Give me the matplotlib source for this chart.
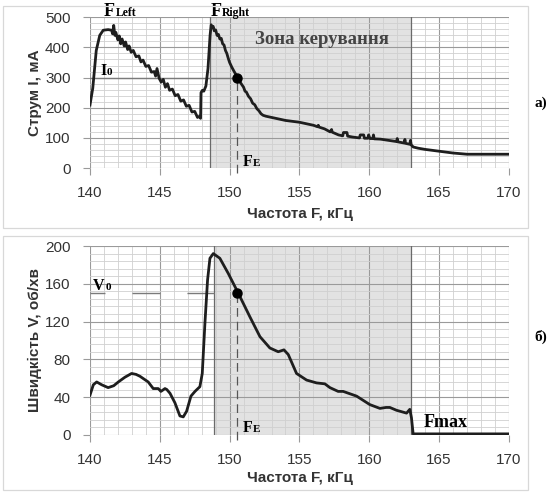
# Current and speed vs. excitation frequency, two stacked panels.

import matplotlib

matplotlib.use("Agg")
import matplotlib.pyplot as plt
from matplotlib.patches import Rectangle
from matplotlib.ticker import MultipleLocator

OUT_PATH = "out.png"

# panel a): current I (mA) vs frequency F (kHz)
freq_current = [
    140.0, 140.2, 140.45, 140.7, 140.95, 141.3, 141.55, 141.62, 141.7, 141.78,
    141.85, 142.0, 142.1, 142.2, 142.3, 142.45, 142.55, 142.7, 142.8, 142.95,
    143.1, 143.3, 143.5, 143.65, 143.8, 144.0, 144.2, 144.4, 144.6, 144.7,
    144.8, 144.95, 145.1, 145.25, 145.4, 145.55, 145.7, 145.9, 146.1, 146.3,
    146.5, 146.7, 146.9, 147.1, 147.3, 147.5, 147.7, 147.85, 147.92, 147.95,
    148.05, 148.15, 148.3, 148.45, 148.6, 148.68, 148.75, 148.82, 148.9, 149.0,
    149.1, 149.2, 149.3, 149.4, 149.5, 149.6, 149.7, 149.8, 149.9, 150.0,
    150.15, 150.3, 150.45, 150.6, 150.75, 150.9, 151.0, 151.1, 151.2, 151.35,
    151.5, 151.65, 151.8, 151.95, 152.1, 152.25, 152.4, 152.6, 152.9, 153.5,
    154.0, 154.5, 155.0, 155.5, 156.0, 156.3, 156.35, 156.4, 156.8, 157.2,
    157.3, 157.35, 157.8, 158.1, 158.15, 158.4, 158.45, 158.8, 159.3, 159.35,
    159.6, 159.65, 159.9, 159.95, 160.05, 160.25, 160.3, 160.35, 160.8, 161.4,
    161.95, 162.0, 162.05, 162.5, 162.55, 162.6, 162.9, 162.95, 163.0, 163.15,
    163.5, 164.0, 164.5, 165.0, 165.5, 166.0, 166.5, 167.0, 168.0, 169.0,
    170.0,
]
current_ma = [
    209, 265, 390, 440, 457, 459, 457, 445, 473, 440,
    450, 425, 438, 412, 428, 405, 418, 393, 405, 384,
    390, 369, 372, 352, 358, 337, 340, 318, 320, 305,
    330, 298, 285, 294, 268, 280, 258, 262, 240, 244,
    222, 226, 205, 208, 186, 188, 168, 172, 165, 250,
    258, 255, 272, 330, 440, 475, 465, 470, 455, 458,
    440, 443, 428, 430, 412, 408, 390, 380, 364, 350,
    335, 322, 310, 298, 285, 275, 268, 255, 252, 238,
    230, 215, 210, 197, 190, 180, 175, 172, 169, 163,
    158, 155, 152, 147, 142, 137, 142, 136, 130, 120,
    128, 119, 110, 107, 118, 118, 106, 103, 100, 110,
    110, 99, 99, 110, 98, 98, 110, 97, 96, 92,
    88, 98, 87, 83, 95, 82, 79, 92, 77, 70,
    66, 62, 59, 56, 53, 50, 48, 46, 46, 46,
    46,
]

# panel б): speed V (rpm) vs frequency F (kHz)
freq_speed = [
    140.0, 140.24, 140.48, 140.84, 141.3, 141.7, 142.03, 142.5, 142.98, 143.3,
    143.58, 144.17, 144.53, 144.89, 145.08, 145.37, 145.5, 145.73, 146.08, 146.44,
    146.68, 146.92, 147.23, 147.52, 147.87, 148.04, 148.23, 148.42, 148.59, 148.83,
    149.3, 149.9, 150.62, 151.45, 152.17, 152.88, 153.48, 153.89, 154.2, 154.79,
    155.51, 156.22, 156.82, 157.18, 157.77, 158.13, 159.09, 160.04, 160.76, 161.2,
    161.47, 161.95, 162.67, 162.9, 163.02, 163.14, 163.5, 170.0,
]
speed_rpm = [
    42, 53, 56, 53, 50, 52, 56, 61, 65, 64,
    62, 56, 49, 49, 46, 49, 48, 44, 34, 20,
    19, 25, 41, 46, 51, 65, 118, 164, 187, 192,
    187, 171, 150, 125, 104, 92, 88, 90, 85, 65,
    58, 55, 54, 50, 46, 46, 41, 32, 28, 29,
    29, 26, 23, 27, 18, 1, 1, 1,
]

# operating points and zone bounds
F_E = 150.55
I_0 = 300
V_0 = 150
ZONE_CURRENT = (148.6, 163.0)
ZONE_SPEED = (148.85, 163.0)

LINE_COLOR = "#1e1e1e"
TEXT_COLOR = "#333333"
SERIF = ["Liberation Serif", "DejaVu Serif"]
SANS = ["Liberation Sans", "DejaVu Sans"]


def style_axes(ax, ymax, ymajor, yminor):
    ax.set_xlim(140, 170)
    ax.set_ylim(0, ymax)
    ax.xaxis.set_major_locator(MultipleLocator(5))
    ax.xaxis.set_minor_locator(MultipleLocator(1))
    ax.yaxis.set_major_locator(MultipleLocator(ymajor))
    ax.yaxis.set_minor_locator(MultipleLocator(yminor))
    ax.grid(which="major", color="#9a9a9a", linewidth=0.8)
    ax.grid(which="minor", color="#d0d0d0", linewidth=0.6)
    ax.set_axisbelow(True)
    for spine in ax.spines.values():
        spine.set_visible(False)
    ax.tick_params(axis="x", which="major", length=5, color="#9a9a9a", labelsize=11,
                   labelcolor=TEXT_COLOR, pad=8)
    ax.tick_params(axis="y", which="major", length=5, color="#9a9a9a", labelsize=11,
                   labelcolor=TEXT_COLOR, pad=9)
    ax.tick_params(which="minor", length=0)
    for label in ax.get_xticklabels() + ax.get_yticklabels():
        label.set_family(SANS)


def shade_zone(ax, zone):
    ax.axvspan(zone[0], zone[1], facecolor="#e2e2e2", edgecolor="none", zorder=0.1)
    for x in zone:
        ax.axvline(x, color="#6a6a6a", linewidth=0.9, zorder=0.6)


def sub_label(ax, x, y, main, sub, size, sub_size, gap, color="black"):
    # letter plus a small subscript-like suffix on the same baseline
    ax.text(x, y, main, family=SERIF, fontsize=size, fontweight="bold", color=color,
            va="baseline", clip_on=False)
    ax.text(x + gap, y, sub, family=SERIF, fontsize=sub_size, fontweight="bold",
            color=color, va="baseline", clip_on=False)


def main():
    fig = plt.figure(figsize=(5.52, 4.93), dpi=100)

    # chart-area frames, Excel style
    for y0, h in ((0.538, 0.450), (0.006, 0.516)):
        fig.patches.append(Rectangle((0.006, y0), 0.95, h, transform=fig.transFigure,
                                     fill=False, edgecolor="#d8d8d8", linewidth=0.9))

    ax1 = fig.add_axes([0.163, 0.659, 0.759, 0.306])
    ax2 = fig.add_axes([0.163, 0.118, 0.759, 0.383])

    # --- a) current
    shade_zone(ax1, ZONE_CURRENT)
    ax1.plot([140, F_E], [I_0, I_0], color="#7a7a7a", linewidth=1.0, zorder=1)
    ax1.plot([F_E, F_E], [-15, I_0], color="#555555", linewidth=0.9,
             dashes=(7, 4), clip_on=False, zorder=1)
    ax1.plot(freq_current, current_ma, color=LINE_COLOR, linewidth=2.0, zorder=3)
    ax1.plot([F_E], [I_0], "o", color="black", markersize=6.5, zorder=4)
    style_axes(ax1, 500, 100, 20)
    ax1.set_xlabel("Частота F, кГц", family=SANS, fontsize=11, fontweight="bold",
                   color=TEXT_COLOR, labelpad=5)
    ax1.set_ylabel("Струм I, мА", family=SANS, fontsize=11, fontweight="bold",
                   color=TEXT_COLOR, labelpad=2)

    sub_label(ax1, 141.0, 503, "F", "Left", 13, 8.5, 0.82)
    sub_label(ax1, 148.65, 503, "F", "Right", 13, 8.5, 0.82)
    ax1.text(151.8, 412, "Зона керування", family=SERIF, fontsize=13.5, fontweight="bold",
             color="#444444", va="baseline")
    sub_label(ax1, 140.72, 308, "I", "0", 11.5, 8, 0.47)
    sub_label(ax1, 150.95, 6, "F", "E", 11.5, 8, 0.74)

    # --- б) speed
    shade_zone(ax2, ZONE_SPEED)
    ax2.plot([140, ZONE_SPEED[0]], [V_0, V_0], color="#7a7a7a", linewidth=1.0,
             linestyle=(9.4, (20.2, 19.4)), zorder=1)
    ax2.plot([F_E, F_E], [-6, V_0], color="#555555", linewidth=0.9,
             dashes=(7, 4), clip_on=False, zorder=1)
    ax2.plot(freq_speed, speed_rpm, color=LINE_COLOR, linewidth=2.0, zorder=3)
    ax2.plot([F_E], [V_0], "o", color="black", markersize=6.5, zorder=4)
    style_axes(ax2, 200, 40, 8)
    ax2.set_xlabel("Частота F, кГц", family=SANS, fontsize=11, fontweight="bold",
                   color=TEXT_COLOR, labelpad=3)
    ax2.set_ylabel("Швидкість V, об/хв", family=SANS, fontsize=11, fontweight="bold",
                   color=TEXT_COLOR, labelpad=2)

    sub_label(ax2, 140.2, 153, "V", "0", 11.5, 8, 0.9)
    sub_label(ax2, 150.95, 3, "F", "E", 11.5, 8, 0.74)
    ax2.text(163.9, 8.5, "Fmax", family=SERIF, fontsize=13, fontweight="bold",
             va="baseline")

    fig.text(0.968, 0.79, "а)", family=SERIF, fontsize=11, fontweight="bold",
             ha="left", va="center")
    fig.text(0.968, 0.316, "б)", family=SERIF, fontsize=11, fontweight="bold",
             ha="left", va="center")

    fig.savefig(OUT_PATH, dpi=100)
    plt.close(fig)


if __name__ == "__main__":
    main()
